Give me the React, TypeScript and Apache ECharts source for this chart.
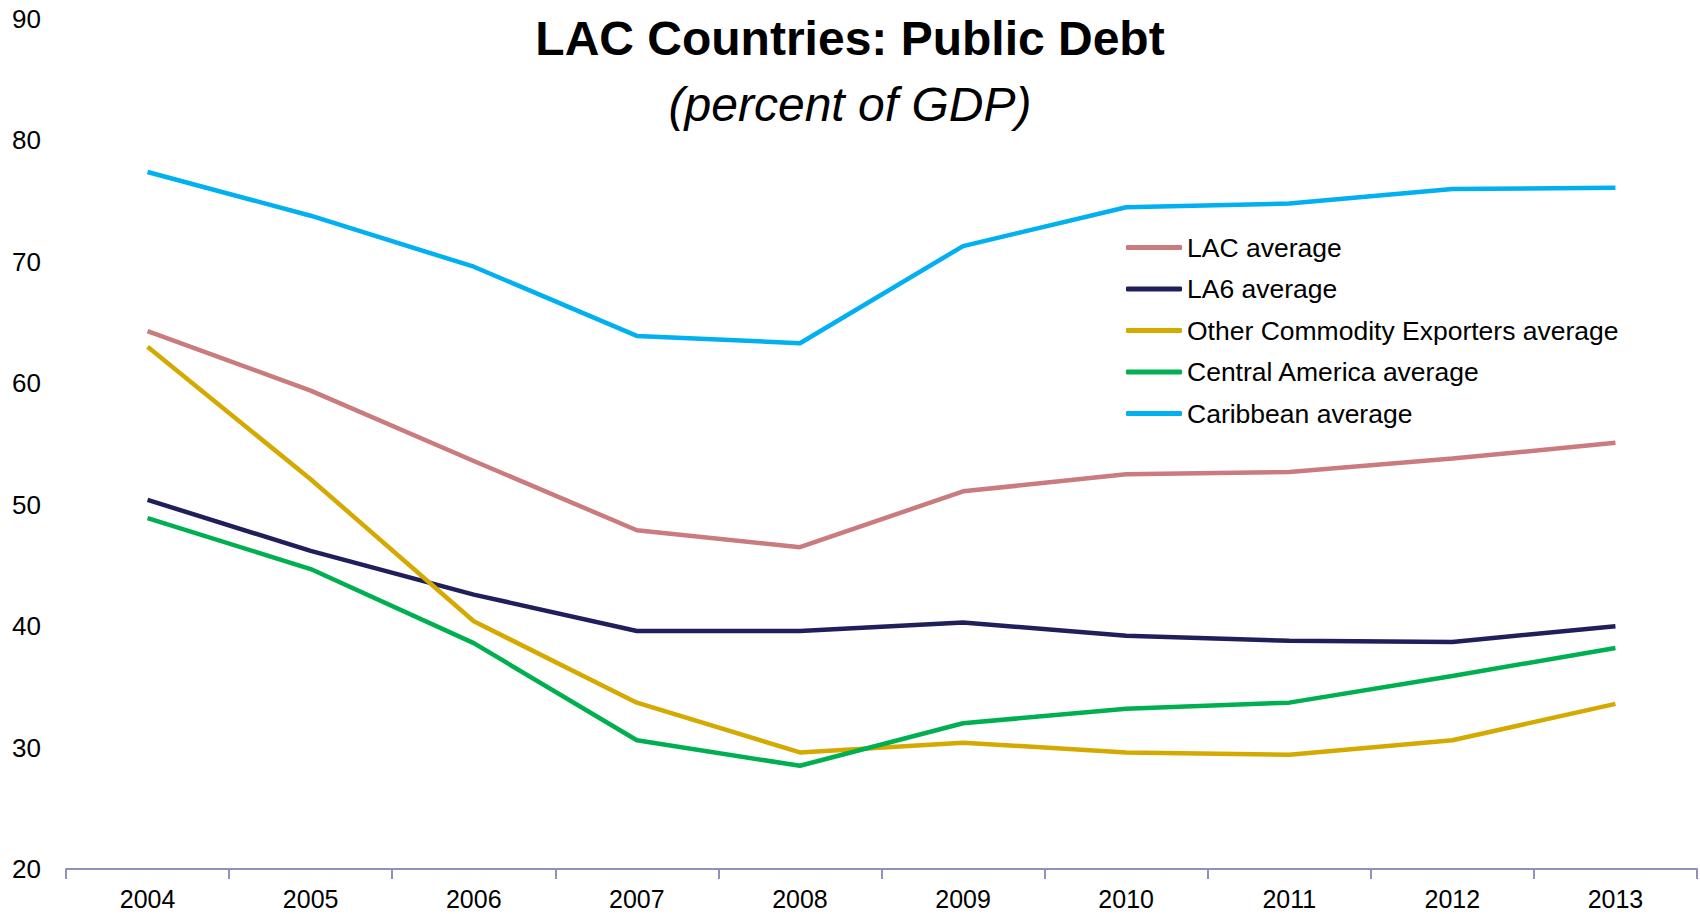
import React, { useEffect, useRef } from "react";
import * as echarts from "echarts";

const years = ["2004", "2005", "2006", "2007", "2008", "2009", "2010", "2011", "2012", "2013"];
const lacAverage = [64.3, 59.4, 53.6, 47.9, 46.5, 51.1, 52.5, 52.7, 53.8, 55.1];
const la6Average = [50.4, 46.2, 42.6, 39.6, 39.6, 40.3, 39.2, 38.8, 38.7, 40.0];
const otherCommodity = [63.0, 52.1, 40.4, 33.7, 29.6, 30.4, 29.6, 29.4, 30.6, 33.6];
const centralAmerica = [48.9, 44.7, 38.6, 30.6, 28.5, 32.0, 33.2, 33.7, 35.9, 38.2];
const caribbean = [77.4, 73.8, 69.6, 63.9, 63.3, 71.3, 74.5, 74.8, 76.0, 76.1];

const seriesNames = [
  "LAC average",
  "LA6 average",
  "Other Commodity Exporters average",
  "Central America average",
  "Caribbean average",
];
const seriesData = [lacAverage, la6Average, otherCommodity, centralAmerica, caribbean];
const colors = ["#C97B7E", "#1F1F5C", "#D4A900", "#00B050", "#00B0F0"];

const FONT = "'Liberation Sans', Arial, Helvetica, sans-serif";

export default function App() {
  const ref = useRef<HTMLDivElement>(null);
  useEffect(() => {
    if (!ref.current) return;
    const chart = echarts.init(ref.current, undefined, { renderer: "svg" });
    chart.setOption({
      animation: false,
      backgroundColor: "#ffffff",
      textStyle: { fontFamily: FONT },
      title: [
        {
          text: "LAC Countries: Public Debt",
          left: "center",
          top: 9,
          textStyle: { fontFamily: FONT, fontSize: 48, fontWeight: "bold", color: "#000" },
        },
        {
          text: "(percent of GDP)",
          left: "center",
          top: 75,
          textStyle: { fontFamily: FONT, fontSize: 48, fontStyle: "italic", fontWeight: "normal", color: "#000" },
        },
      ],
      legend: {
        orient: "vertical",
        left: 1121,
        top: 229,
        icon: "roundRect",
        itemWidth: 56,
        itemHeight: 5,
        itemGap: 14.5,
        textStyle: { fontFamily: FONT, fontSize: 26.5, color: "#000", lineHeight: 26 },
        data: seriesNames,
      },
      grid: { left: 66, right: 3, top: 19, bottom: 45, containLabel: false },
      xAxis: {
        type: "category",
        data: years,
        boundaryGap: true,
        axisLine: { lineStyle: { color: "#8E92BA", width: 2 } },
        axisTick: { show: true, length: 10, lineStyle: { color: "#8E92BA", width: 2 } },
        axisLabel: { fontFamily: FONT, fontSize: 25, color: "#000", margin: 17 },
      },
      yAxis: {
        type: "value",
        min: 20,
        max: 90,
        interval: 10,
        axisLine: { show: false },
        axisTick: { show: false },
        splitLine: { show: false },
        axisLabel: { fontFamily: FONT, fontSize: 26, color: "#000", margin: 25 },
      },
      series: seriesNames.map((name, i) => ({
        name,
        type: "line",
        data: seriesData[i],
        symbol: "none",
        color: colors[i],
        lineStyle: { width: 4.5, color: colors[i] },
        z: 2 + i,
      })),
    });
    return () => chart.dispose();
  }, []);
  return (
    <div
      ref={ref}
      style={{ position: "fixed", left: 0, top: 0, width: 1700, height: 914, background: "#fff" }}
    />
  );
}
